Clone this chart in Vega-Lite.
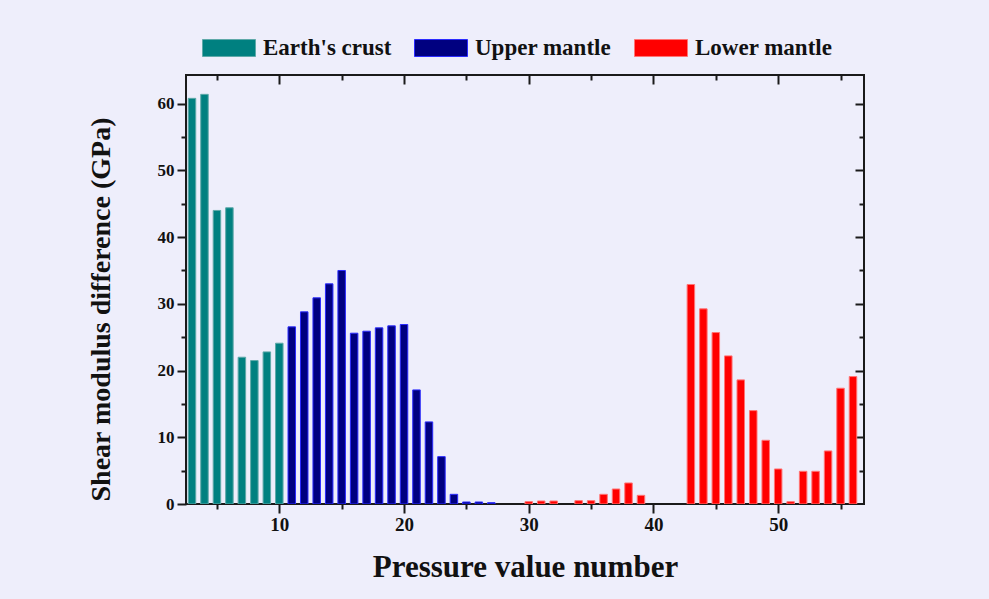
{
  "$schema": "https://vega.github.io/schema/vega-lite/v6.json",
  "width": 678,
  "height": 429,
  "autosize": "none",
  "padding": {"left": 186, "top": 75, "right": 125, "bottom": 95},
  "background": "#eeeefb",
  "config": {
    "view": {"stroke": "#1a1a1a", "strokeWidth": 2},
    "font": "Liberation Serif"
  },
  "data": {
    "values": [
      {"n": 3, "g": 60.8, "zone": "Earth's crust"},
      {"n": 4, "g": 61.4, "zone": "Earth's crust"},
      {"n": 5, "g": 44.0, "zone": "Earth's crust"},
      {"n": 6, "g": 44.4, "zone": "Earth's crust"},
      {"n": 7, "g": 22.0, "zone": "Earth's crust"},
      {"n": 8, "g": 21.5, "zone": "Earth's crust"},
      {"n": 9, "g": 22.8, "zone": "Earth's crust"},
      {"n": 10, "g": 24.1, "zone": "Earth's crust"},
      {"n": 11, "g": 26.55, "zone": "Upper mantle"},
      {"n": 12, "g": 28.8, "zone": "Upper mantle"},
      {"n": 13, "g": 30.9, "zone": "Upper mantle"},
      {"n": 14, "g": 33.0, "zone": "Upper mantle"},
      {"n": 15, "g": 35.0, "zone": "Upper mantle"},
      {"n": 16, "g": 25.6, "zone": "Upper mantle"},
      {"n": 17, "g": 25.9, "zone": "Upper mantle"},
      {"n": 18, "g": 26.4, "zone": "Upper mantle"},
      {"n": 19, "g": 26.7, "zone": "Upper mantle"},
      {"n": 20, "g": 26.9, "zone": "Upper mantle"},
      {"n": 21, "g": 17.1, "zone": "Upper mantle"},
      {"n": 22, "g": 12.3, "zone": "Upper mantle"},
      {"n": 23, "g": 7.1, "zone": "Upper mantle"},
      {"n": 24, "g": 1.45, "zone": "Upper mantle"},
      {"n": 25, "g": 0.3, "zone": "Upper mantle"},
      {"n": 26, "g": 0.3, "zone": "Upper mantle"},
      {"n": 27, "g": 0.2, "zone": "Upper mantle"},
      {"n": 30, "g": 0.35, "zone": "Lower mantle"},
      {"n": 31, "g": 0.45, "zone": "Lower mantle"},
      {"n": 32, "g": 0.45, "zone": "Lower mantle"},
      {"n": 34, "g": 0.5, "zone": "Lower mantle"},
      {"n": 35, "g": 0.5, "zone": "Lower mantle"},
      {"n": 36, "g": 1.45, "zone": "Lower mantle"},
      {"n": 37, "g": 2.25, "zone": "Lower mantle"},
      {"n": 38, "g": 3.15, "zone": "Lower mantle"},
      {"n": 39, "g": 1.3, "zone": "Lower mantle"},
      {"n": 43, "g": 32.9, "zone": "Lower mantle"},
      {"n": 44, "g": 29.25, "zone": "Lower mantle"},
      {"n": 45, "g": 25.7, "zone": "Lower mantle"},
      {"n": 46, "g": 22.2, "zone": "Lower mantle"},
      {"n": 47, "g": 18.6, "zone": "Lower mantle"},
      {"n": 48, "g": 14.0, "zone": "Lower mantle"},
      {"n": 49, "g": 9.55, "zone": "Lower mantle"},
      {"n": 50, "g": 5.25, "zone": "Lower mantle"},
      {"n": 51, "g": 0.35, "zone": "Lower mantle"},
      {"n": 52, "g": 4.9, "zone": "Lower mantle"},
      {"n": 53, "g": 4.9, "zone": "Lower mantle"},
      {"n": 54, "g": 7.95, "zone": "Lower mantle"},
      {"n": 55, "g": 17.35, "zone": "Lower mantle"},
      {"n": 56, "g": 19.1, "zone": "Lower mantle"}
    ]
  },
  "layer": [
    {
      "mark": {"type": "bar", "size": 7.5, "strokeWidth": 1, "clip": true},
      "encoding": {
        "x": {
          "field": "n", "type": "quantitative",
          "scale": {"domain": [2.92, 56.48], "nice": false, "zero": false},
          "axis": {
            "orient": "bottom",
            "title": "Pressure value number",
            "values": [5, 10, 15, 20, 25, 30, 35, 40, 45, 50, 55],
            "labelExpr": "datum.value % 10 === 0 ? datum.label : ''",
            "labelOverlap": false,
            "grid": false,
            "domain": false,
            "tickColor": "#1a1a1a", "tickWidth": 2,
            "tickSize": {"condition": {"test": "datum.value % 10 === 0", "value": 9}, "value": 5},
            "labelFont": "Liberation Serif", "labelFontWeight": "bold", "labelFontSize": 19, "labelColor": "#111111",
            "labelPadding": 2,
            "titleFont": "Liberation Serif", "titleFontWeight": "bold", "titleFontSize": 31, "titleColor": "#111111",
            "titlePadding": 18
          }
        },
        "y": {
          "field": "g", "type": "quantitative",
          "scale": {"domain": [0, 64.3], "nice": false},
          "axis": {
            "orient": "left",
            "title": "Shear modulus difference (GPa)",
            "values": [0, 5, 10, 15, 20, 25, 30, 35, 40, 45, 50, 55, 60],
            "labelExpr": "datum.value % 10 === 0 ? datum.label : ''",
            "labelOverlap": false,
            "grid": false,
            "domain": false,
            "tickColor": "#1a1a1a", "tickWidth": 2,
            "tickSize": {"condition": {"test": "datum.value % 10 === 0", "value": 9}, "value": 5},
            "labelFont": "Liberation Serif", "labelFontWeight": "bold", "labelFontSize": 17, "labelColor": "#111111",
            "labelPadding": 3,
            "titleFont": "Liberation Serif", "titleFontWeight": "bold", "titleFontSize": 28, "titleColor": "#111111",
            "titlePadding": 42,
            "titleY": 234
          }
        },
        "fill": {
          "field": "zone", "type": "nominal",
          "scale": {"domain": ["Earth's crust", "Upper mantle", "Lower mantle"], "range": ["#008080", "#000080", "#ff0000"]},
          "legend": {
            "title": null,
            "orient": "none", "direction": "horizontal",
            "legendX": 16, "legendY": -54,
            "symbolType": "M-1,-0.32L1,-0.32L1,0.32L-1,0.32Z",
            "symbolSize": 2809, "symbolStrokeWidth": 1,
            "labelFont": "Liberation Serif", "labelFontWeight": "bold", "labelFontSize": 23, "labelColor": "#111111",
            "labelOffset": 7, "columnPadding": 20, "gridAlign": "none", "labelLimit": 300
          }
        },
        "stroke": {
          "field": "zone", "type": "nominal",
          "scale": {"domain": ["Earth's crust", "Upper mantle", "Lower mantle"], "range": ["#5fa9a9", "#2b2bff", "#ff7474"]},
          "legend": {
            "title": null,
            "orient": "none", "direction": "horizontal",
            "legendX": 16, "legendY": -54,
            "symbolType": "M-1,-0.32L1,-0.32L1,0.32L-1,0.32Z",
            "symbolSize": 2809, "symbolStrokeWidth": 1,
            "labelFont": "Liberation Serif", "labelFontWeight": "bold", "labelFontSize": 23, "labelColor": "#111111",
            "labelOffset": 7, "columnPadding": 20, "gridAlign": "none", "labelLimit": 300
          }
        }
      }
    },
    {
      "mark": {"type": "bar", "size": 7.5, "opacity": 0, "clip": true},
      "encoding": {
        "x": {
          "field": "n", "type": "quantitative",
          "axis": {
            "orient": "top", "title": null, "labels": false, "grid": false, "domain": false,
            "values": [10, 20, 30, 40, 50],
            "offset": -9,
            "tickColor": "#1a1a1a", "tickWidth": 2, "tickSize": 9
          }
        },
        "y": {
          "field": "g", "type": "quantitative",
          "axis": {
            "orient": "right", "title": null, "labels": false, "grid": false, "domain": false,
            "values": [10, 20, 30, 40, 50, 60],
            "offset": -9,
            "tickColor": "#1a1a1a", "tickWidth": 2, "tickSize": 9
          }
        }
      }
    },
    {
      "mark": {"type": "bar", "size": 7.5, "opacity": 0, "clip": true},
      "encoding": {
        "x": {
          "field": "n", "type": "quantitative",
          "axis": {
            "orient": "top", "title": null, "labels": false, "grid": false, "domain": false,
            "values": [5, 15, 25, 35, 45, 55],
            "offset": -5,
            "tickColor": "#1a1a1a", "tickWidth": 2, "tickSize": 5
          }
        },
        "y": {
          "field": "g", "type": "quantitative",
          "axis": {
            "orient": "right", "title": null, "labels": false, "grid": false, "domain": false,
            "values": [5, 15, 25, 35, 45, 55],
            "offset": -5,
            "tickColor": "#1a1a1a", "tickWidth": 2, "tickSize": 5
          }
        }
      }
    }
  ],
  "resolve": {"axis": {"x": "independent", "y": "independent"}}
}
